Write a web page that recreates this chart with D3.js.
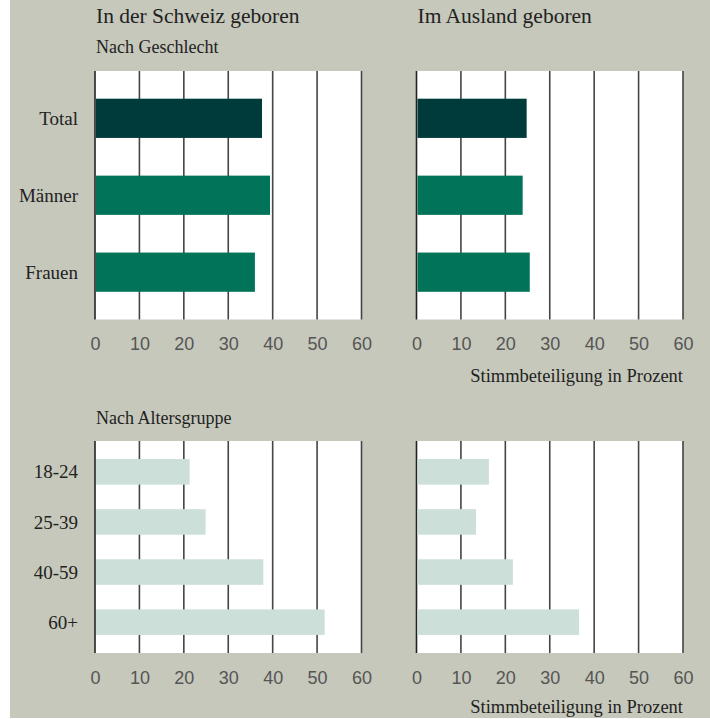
<!DOCTYPE html>
<html>
<head>
<meta charset="utf-8">
<script src="https://cdn.jsdelivr.net/npm/d3@7"></script>
<style>
  body { margin: 0; background: #fff; }
  .serif { font-family: "Liberation Serif", "DejaVu Serif", serif; fill: #222; }
  .tick text { font-family: "Liberation Sans", Arial, sans-serif; fill: #555; font-size: 18px; }
</style>
</head>
<body>
<script>
// data
var panels = ["In der Schweiz geboren", "Im Ausland geboren"];
var sexCats = ["Total", "Männer", "Frauen"];
var sexSwiss = [37.6, 39.4, 36.0];
var sexForeign = [24.8, 23.9, 25.5];
var ageCats = ["18-24", "25-39", "40-59", "60+"];
var ageSwiss = [21.3, 24.9, 37.9, 51.7];
var ageForeign = [16.3, 13.4, 21.7, 36.6];
var xTicks = [0, 10, 20, 30, 40, 50, 60];

var W = 710, H = 719;
var svg = d3.select("body").append("svg").attr("width", W).attr("height", H);
svg.append("rect").attr("x", 10).attr("y", 0).attr("width", 700).attr("height", 718).attr("fill", "#c6c8bb");

var colX = [95, 416.5];
var plotW = 266.5;
var x = d3.scaleLinear().domain([0, 60]).range([0, plotW]);

// titles
panels.forEach(function (t, i) {
  svg.append("text").attr("class", "serif").attr("x", colX[i] + 1).attr("y", 23)
    .style("font-size", "21.5px").text(t);
});
svg.append("text").attr("class", "serif").attr("x", 96).attr("y", 53).style("font-size", "18px").text("Nach Geschlecht");
svg.append("text").attr("class", "serif").attr("x", 96).attr("y", 424).style("font-size", "18px").text("Nach Altersgruppe");

function drawPanel(left, top, bottom, cats, vals, colors, showLabels, po) {
  var g = svg.append("g").attr("transform", "translate(" + left + ",0)");
  var y = d3.scaleBand().domain(cats).range([top, bottom]).paddingInner(0.49).paddingOuter(po);

  g.append("rect").attr("x", 0).attr("y", top).attr("width", plotW).attr("height", bottom - top).attr("fill", "#fff");

  g.selectAll("line.grid").data(xTicks).enter().append("line").attr("class", "grid")
    .attr("x1", function (d) { return x(d); }).attr("x2", function (d) { return x(d); })
    .attr("y1", top).attr("y2", bottom)
    .attr("stroke", function (d) { return d === 0 ? "#222" : "#444"; }).attr("stroke-width", 1.6);

  g.selectAll("rect.bar").data(vals).enter().append("rect").attr("class", "bar")
    .attr("x", x(0) + 1).attr("y", function (d, i) { return y(cats[i]); })
    .attr("width", function (d) { return x(d) - 1; })
    .attr("height", y.bandwidth())
    .attr("fill", function (d, i) { return colors[i]; });

  var ax = g.append("g").attr("transform", "translate(0," + bottom + ")")
    .call(d3.axisBottom(x).tickValues(xTicks).tickSize(0).tickPadding(18));
  ax.select(".domain").remove();

  if (showLabels) {
    g.selectAll("text.cat").data(cats).enter().append("text").attr("class", "serif cat")
      .attr("x", -17).attr("y", function (d) { return y(d) + y.bandwidth() / 2; })
      .attr("dy", "0.35em").attr("text-anchor", "end").style("font-size", "19px")
      .text(function (d) { return d; });
  }
  return g;
}

var sexColors = ["#003b3c", "#007358", "#007358"];
var ageColors = ageCats.map(function () { return "#cddfd9"; });

drawPanel(colX[0], 71, 319.5, sexCats, sexSwiss, sexColors, true, 0.36);
drawPanel(colX[1], 71, 319.5, sexCats, sexForeign, sexColors, false, 0.36);
drawPanel(colX[0], 441, 653, ageCats, ageSwiss, ageColors, true, 0.36);
drawPanel(colX[1], 441, 653, ageCats, ageForeign, ageColors, false, 0.36);

[382, 713].forEach(function (yy) {
  svg.append("text").attr("class", "serif").attr("x", colX[1] + plotW).attr("y", yy)
    .attr("text-anchor", "end").style("font-size", "18.5px").text("Stimmbeteiligung in Prozent");
});
</script>
</body>
</html>
